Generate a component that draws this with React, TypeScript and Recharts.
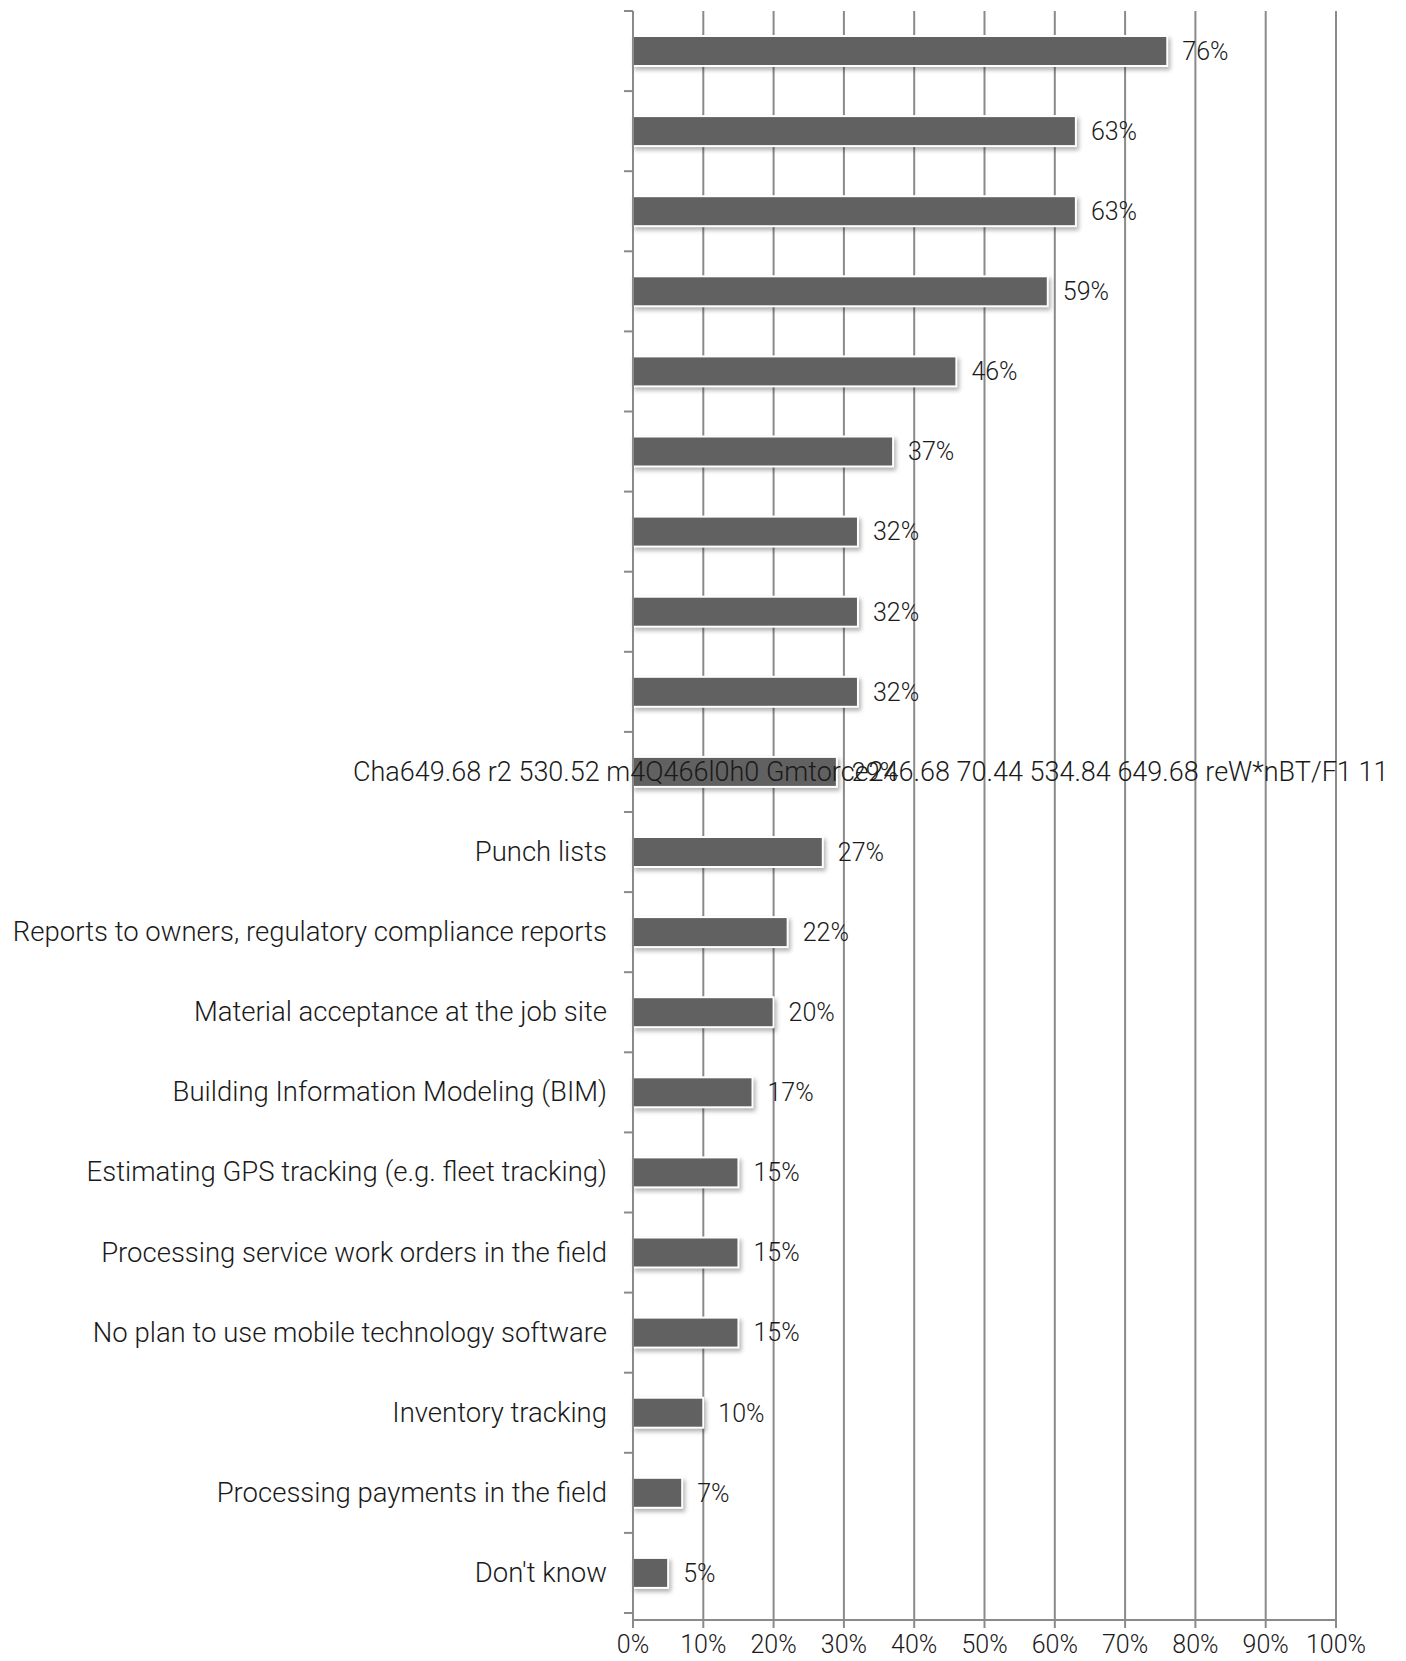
import React from "react";
import {
  BarChart,
  Bar,
  XAxis,
  YAxis,
  CartesianGrid,
  LabelList,
} from "recharts";

// categories, top to bottom (the first nine have no label in the source)
const categories = [
  "",
  " ",
  "  ",
  "   ",
  "    ",
  "     ",
  "      ",
  "       ",
  "        ",
  "Cha649.68 r2 530.52 m4Q466l0h0 Gmtorce246.68 70.44 534.84 649.68 reW*nBT/F1 11",
  "Punch lists",
  "Reports to owners, regulatory compliance reports",
  "Material acceptance at the job site",
  "Building Information Modeling (BIM)",
  "Estimating GPS tracking (e.g. fleet tracking)",
  "Processing service work orders in the field",
  "No plan to use mobile technology software",
  "Inventory tracking",
  "Processing payments in the field",
  "Don't know",
];

const shares = [76, 63, 63, 59, 46, 37, 32, 32, 32, 29, 27, 22, 20, 17, 15, 15, 15, 10, 7, 5];

const xTicks = [0, 10, 20, 30, 40, 50, 60, 70, 80, 90, 100];

const data = categories.map((name, i) => ({ name, value: shares[i] }));

const W = 1406;
const H = 1661;
const TOP = 11;
const AXIS_H = 41;
const PAD_BOTTOM = 7;
const AXIS_X = 633;
const LABEL_GAP = 26;
const FONT = "Roboto, 'Noto Sans', sans-serif";
const GRAY = "#8a8a8a";

const bandSize = (H - TOP - AXIS_H - PAD_BOTTOM) / categories.length;

const CategoryTick = (props: any) => {
  const { x, y, payload, index } = props;
  const text: string = payload.value;
  const long = text.length > 60;
  const ax = x + LABEL_GAP;
  return (
    <g>
      <line x1={ax - 9} x2={ax} y1={y - bandSize / 2} y2={y - bandSize / 2} stroke={GRAY} strokeWidth={2} />
      {index === categories.length - 1 && (
        <line x1={ax - 9} x2={ax} y1={y + bandSize / 2} y2={y + bandSize / 2} stroke={GRAY} strokeWidth={2} />
      )}
      <text
        x={long ? x - 254 : x}
        y={y}
        dy={9}
        textAnchor={long ? "start" : "end"}
        fill="#1a1a1a"
        fontSize={long ? 27 : 27.5}
        fontWeight={300}
        fontFamily={FONT}
      >
        {text.trim()}
      </text>
    </g>
  );
};

const ShadowBar = (props: any) => {
  const { x, y, width, height } = props;
  if (!width || width <= 0) return null;
  return (
    <rect
      x={x}
      y={y}
      width={width}
      height={height}
      fill="#616161"
      stroke="#ffffff"
      strokeWidth={2}
      style={{ filter: "drop-shadow(2px 3px 2px rgba(0,0,0,0.3))" }}
    />
  );
};

export default function App() {
  return (
    <div style={{ position: "absolute", left: 0, top: 0, width: W, height: H, background: "#fff" }}>
      <BarChart
        width={W}
        height={H}
        data={data}
        layout="vertical"
        margin={{ top: TOP, right: 70, bottom: 0, left: 0 }}
        barSize={30}
      >
        <CartesianGrid horizontal={false} stroke={GRAY} strokeWidth={2} />
        <XAxis
          type="number"
          domain={[0, 100]}
          ticks={xTicks}
          interval={0}
          height={AXIS_H}
          tickFormatter={(v: number) => `${v}%`}
          axisLine={{ stroke: GRAY, strokeWidth: 2 }}
          tickLine={{ stroke: GRAY, strokeWidth: 2 }}
          tickSize={8}
          tickMargin={7}
          tick={{ fill: "#1a1a1a", fontSize: 25, fontWeight: 300, fontFamily: FONT }}
        />
        <YAxis
          type="category"
          dataKey="name"
          width={AXIS_X}
          interval={0}
          padding={{ top: 0, bottom: PAD_BOTTOM }}
          tickSize={0}
          tickMargin={LABEL_GAP}
          tickLine={false}
          axisLine={{ stroke: GRAY, strokeWidth: 2 }}
          tick={<CategoryTick />}
        />
        <Bar dataKey="value" isAnimationActive={false} shape={<ShadowBar />}>
          <LabelList
            dataKey="value"
            position="right"
            offset={15}
            formatter={(v: any) => `${v}%`}
            fill="#1a1a1a"
            fontSize={25}
            fontWeight={300}
            fontFamily={FONT}
          />
        </Bar>
      </BarChart>
    </div>
  );
}
